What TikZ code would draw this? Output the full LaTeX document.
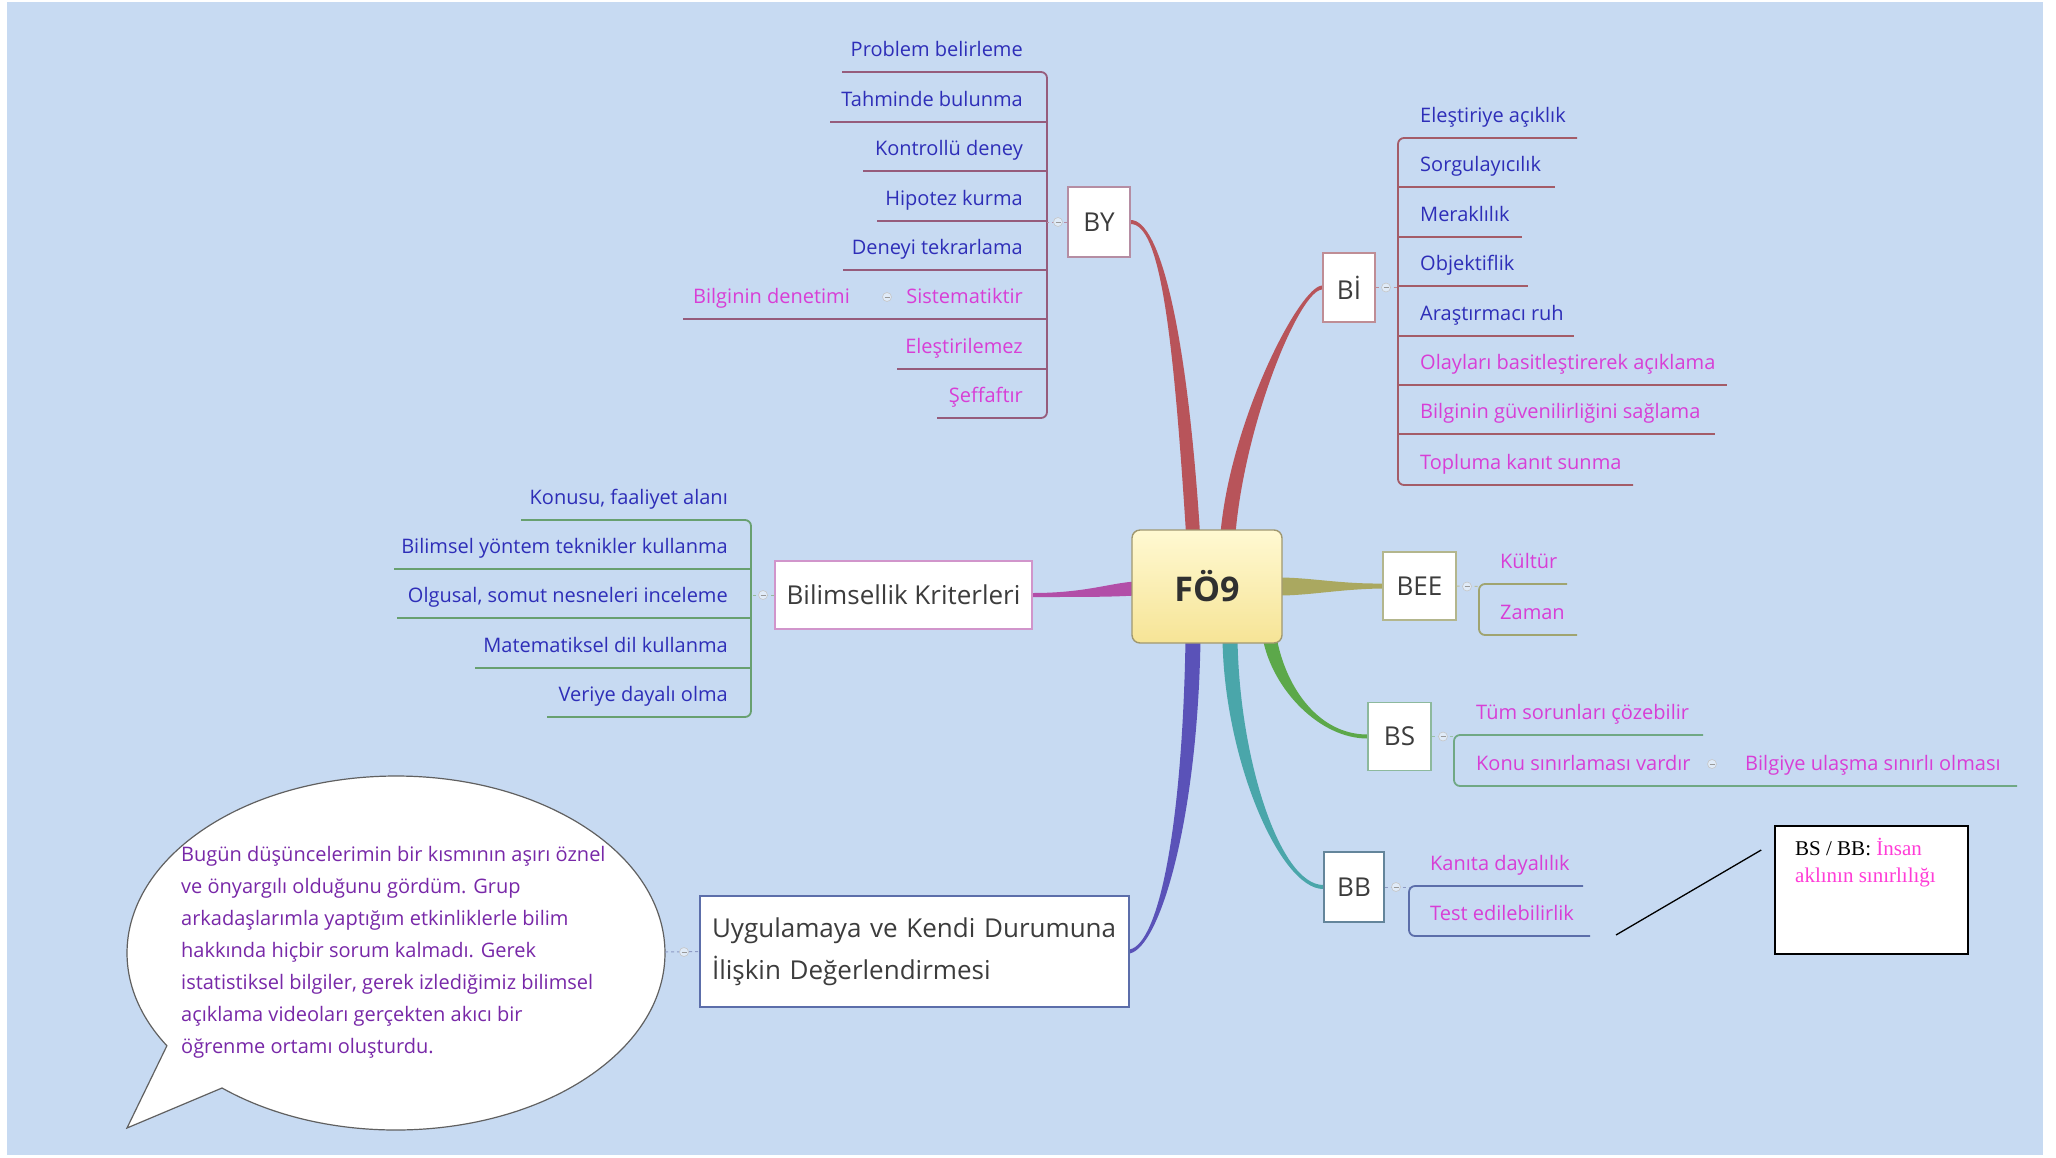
\documentclass[tikz,border=0pt]{standalone}
\usepackage{fontspec}
\setmainfont{Open Sans}
\newfontfamily\notefont{Liberation Serif}
\usetikzlibrary{calc,backgrounds}

\definecolor{bgblue}{RGB}{199,218,242}
\definecolor{leafblue}{RGB}{46,46,184}
\definecolor{leafpink}{RGB}{216,62,214}
\definecolor{notepink}{RGB}{255,60,215}
\definecolor{speechpurple}{RGB}{120,40,168}
\definecolor{labelgray}{RGB}{60,60,60}
\definecolor{brRed}{RGB}{184,84,90}
\definecolor{brMagenta}{RGB}{178,78,168}
\definecolor{brOlive}{RGB}{170,168,96}
\definecolor{brGreen}{RGB}{92,168,74}
\definecolor{brTeal}{RGB}{74,166,170}
\definecolor{brIndigo}{RGB}{90,82,184}
\definecolor{lnBY}{RGB}{150,92,124}
\definecolor{lnBI}{RGB}{164,92,104}
\definecolor{lnBK}{RGB}{104,160,112}
\definecolor{lnBEE}{RGB}{160,164,112}
\definecolor{lnBS}{RGB}{112,168,132}
\definecolor{lnBB}{RGB}{92,110,170}
\definecolor{fotop}{RGB}{255,249,210}
\definecolor{fobot}{RGB}{246,228,150}
\definecolor{fobord}{RGB}{160,152,112}

% tapered branch: colour, start, control 1, control 2, end, half-width at start, half-width at end
\newcommand\branchtaper[7]{%
  \fill[#1] ($#2+#6$) .. controls ($#3+#6$) and ($#4+#7$) .. ($#5+#7$)
    -- ($#5-#7$) .. controls ($#4-#7$) and ($#3-#6$) .. ($#2-#6$) -- cycle;}

\tikzset{
  topic/.style={draw, fill=white, line width=1.4pt, inner sep=0pt, text=labelgray,
    font=\fontsize{26}{30}\selectfont},
  leaf/.style={inner sep=0pt, font=\fontsize{20}{24}\selectfont},
  leafline/.style={line width=1.8pt, rounded corners=6pt},
  dotlink/.style={line width=1pt, dash pattern=on 3pt off 3pt},
  knob/.style={circle, draw=white!55!gray, fill=white!45!bgblue, line width=0.6pt,
    minimum size=9pt, inner sep=0pt,
    path picture={\draw[gray!80, line width=0.8pt]
      ([xshift=-2.5pt]path picture bounding box.center) --
      ([xshift=2.5pt]path picture bounding box.center);}},
}

\begin{document}
\begin{tikzpicture}[x=1pt,y=-1pt]
\useasboundingbox (0,0) rectangle (2056,1157);

% ---------- central topic and main topics ----------
\node[draw=fobord, line width=1.4pt, rounded corners=8pt, top color=fotop, bottom color=fobot,
      minimum width=150pt, minimum height=113pt, inner sep=0pt, text=labelgray!80!black,
      font=\bfseries\fontsize{34}{40}\selectfont] (fo9) at (1207,586.5) {FÖ9};

\node[topic, draw=lnBY!70, minimum width=62pt, minimum height=70pt] (by) at (1099,222) {BY};
\node[topic, draw=lnBI!70, minimum width=52pt, minimum height=69pt] (bi) at (1349,287.5) {Bİ};
\node[topic, draw=lnBEE!80, minimum width=73pt, minimum height=68pt] (bee) at (1419.5,586) {BEE};
\node[topic, draw=lnBS!80, minimum width=63pt, minimum height=68pt] (bs) at (1399.5,736.5) {BS};
\node[topic, draw=lnBB!60!lnBS, minimum width=60pt, minimum height=70pt] (bb) at (1354,887) {BB};
\node[topic, draw=brMagenta!60, minimum width=257pt, minimum height=68pt] (bk) at (903.5,595) {Bilimsellik Kriterleri};
\node[topic, draw=lnBB, minimum width=429pt, minimum height=111pt, text width=405pt, align=left,
      font=\fontsize{26}{42}\selectfont] (uyg) at (914.5,951.5)
      {Uygulamaya ve Kendi Durumuna\\İlişkin Değerlendirmesi};

% ---------- branch end points on the central topic ----------
\coordinate (byB) at ($(fo9.north)+(-14,4)$);
\coordinate (biB) at ($(fo9.north)+(21,4)$);
\coordinate (bkB) at ($(fo9.west)+(4,2)$);
\coordinate (beeB) at ($(fo9.east)+(-4,0)$);
\coordinate (bsB) at ($(fo9.south)+(63,-4)$);
\coordinate (bbB) at ($(fo9.south)+(23,-4)$);
\coordinate (uygB) at ($(fo9.south)+(-14,-4)$);

\begin{scope}[on background layer]
  \fill[white] (0,0) rectangle (2056,1157);
  \fill[bgblue] (7,2) rectangle (2043,1155);
  \branchtaper{brRed}{(by.east)}{(1160,222)}{(1180,330)}{(byB)}{(0,2)}{(-7,0)}
  \branchtaper{brRed}{(bi.west)}{(1300,287.5)}{(1238,420)}{(biB)}{(0,-2)}{(-7.5,0)}
  \branchtaper{brMagenta}{(bk.east)}{(1085,595)}{(1110,590)}{(bkB)}{(0,2)}{(0,7)}
  \branchtaper{brOlive}{(bee.west)}{(1340,586.5)}{(1310,586.5)}{(beeB)}{(0,-2.5)}{(0,-9)}
  \branchtaper{brGreen}{(bs.west)}{(1320,736.5)}{(1280,690)}{(bsB)}{(0,-2)}{(7,0)}
  \branchtaper{brTeal}{(bb.west)}{(1280,887)}{(1232,760)}{(bbB)}{(0,-2)}{(7.5,0)}
  \branchtaper{brIndigo}{(uyg.east)}{(1160,945)}{(1190,820)}{(uygB)}{(0,2)}{(7.5,0)}
\end{scope}

% ---------- BY ----------
\draw[leafline, lnBY] (842,72) -- (1047,72) -- (1047,418) -- (937,418);
\foreach \ly/\lx in {122/830,171/863,221/877,270/843,319/683,369/897}
  \draw[leafline, lnBY] (\lx,\ly) -- (1047,\ly);
\foreach \t/\ly/\c [count=\i] in {Problem belirleme/72/leafblue, Tahminde bulunma/122/leafblue,
    Kontrollü deney/171/leafblue, Hipotez kurma/221/leafblue, Deneyi tekrarlama/270/leafblue,
    Sistematiktir/319/leafpink, Eleştirilemez/369/leafpink, Şeffaftır/418/leafpink}
  \node[leaf, text=\c, anchor=base east] (by\i) at (1023,\ly-16) {\t};
\node[leaf, text=leafpink, anchor=base east] (bydn) at (850,303) {Bilginin denetimi};
\node[knob] (kbydn) at (887,297) {};
\draw[dotlink, lnBY!70] (by.west) -- (1047,222);
\node[knob] (kby) at (1058,222) {};

% ---------- Bİ ----------
\draw[leafline, lnBI] (1577,138) -- (1398,138) -- (1398,485) -- (1633,485);
\foreach \ly/\lx in {187/1555,237/1522,286/1528,336/1574,385/1727,434/1715}
  \draw[leafline, lnBI] (1398,\ly) -- (\lx,\ly);
\foreach \t/\ly/\c [count=\i] in {Eleştiriye açıklık/138/leafblue, Sorgulayıcılık/187/leafblue,
    Meraklılık/237/leafblue, Objektiflik/286/leafblue, Araştırmacı ruh/336/leafblue,
    Olayları basitleştirerek açıklama/385/leafpink, Bilginin güvenilirliğini sağlama/434/leafpink,
    Topluma kanıt sunma/485/leafpink}
  \node[leaf, text=\c, anchor=base west] (bi\i) at (1420,\ly-16) {\t};
\draw[dotlink, lnBI!70] (bi.east) -- (1398,287.5);
\node[knob] (kbi) at (1386,287.5) {};

% ---------- Bilimsellik Kriterleri ----------
\draw[leafline, lnBK] (521,520) -- (751,520) -- (751,717) -- (547,717);
\foreach \ly/\lx in {569/394,618/397,668/475}
  \draw[leafline, lnBK] (\lx,\ly) -- (751,\ly);
\foreach \t/\ly [count=\i] in {{Konusu, faaliyet alanı}/520, Bilimsel yöntem teknikler kullanma/569,
    {Olgusal, somut nesneleri inceleme}/618, Matematiksel dil kullanma/668, Veriye dayalı olma/717}
  \node[leaf, text=leafblue, anchor=base east] (bk\i) at (728,\ly-16) {\t};
\draw[dotlink, lnBK!70] (bk.west) -- (751,595);
\node[knob] (kbk) at (763,595) {};

% ---------- BEE ----------
\draw[leafline, lnBEE] (1567,584) -- (1479,584) -- (1479,635) -- (1577,635);
\foreach \t/\ly [count=\i] in {Kültür/584, Zaman/635}
  \node[leaf, text=leafpink, anchor=base west] (bee\i) at (1500,\ly-16) {\t};
\draw[dotlink, lnBEE!70] (bee.east) -- (1479,586.5);
\node[knob] (kbee) at (1467,586.5) {};

% ---------- BS ----------
\draw[leafline, lnBS] (1703,735) -- (1454,735) -- (1454,786) -- (2017,786);
\foreach \t/\ly [count=\i] in {Tüm sorunları çözebilir/735, Konu sınırlaması vardır/786}
  \node[leaf, text=leafpink, anchor=base west] (bs\i) at (1476,\ly-16) {\t};
\node[leaf, text=leafpink, anchor=base west] (bsbu) at (1745,770) {Bilgiye ulaşma sınırlı olması};
\node[knob] (kbsbu) at (1712,764) {};
\draw[dotlink, lnBS!70] (bs.east) -- (1454,736.5);
\node[knob] (kbs) at (1443,736.5) {};

% ---------- BB ----------
\draw[leafline, lnBB] (1583,886) -- (1409,886) -- (1409,936) -- (1590,936);
\foreach \t/\ly [count=\i] in {Kanıta dayalılık/886, Test edilebilirlik/936}
  \node[leaf, text=leafpink, anchor=base west] (bb\i) at (1430,\ly-16) {\t};
\draw[dotlink, lnBB!70] (bb.east) -- (1409,887);
\node[knob] (kbb) at (1396,887) {};

% ---------- speech bubble ----------
\coordinate (bub) at (396,953);
\coordinate (bubTail) at (127,1128);
\coordinate (bubE) at (665,952);
\filldraw[fill=white, draw=gray!75!black, line width=1.2pt]
  ($(bub)+({269*cos(130.3)},{177*sin(130.3)})$)
  arc[start angle=130.3, end angle=-211.6, x radius=269, y radius=177]
  -- (bubTail) -- cycle;
\foreach \t [count=\i] in {{Bugün düşüncelerimin bir kısmının aşırı öznel},
    {ve önyargılı olduğunu gördüm. Grup},
    {arkadaşlarımla yaptığım etkinliklerle bilim},
    {hakkında hiçbir sorum kalmadı. Gerek},
    {istatistiksel bilgiler, gerek izlediğimiz bilimsel},
    {açıklama videoları gerçekten akıcı bir},
    {öğrenme ortamı oluşturdu.}}
  \node[leaf, text=speechpurple, anchor=base west] (sp\i) at (181,{861+32*(\i-1)}) {\t};
\draw[dotlink, lnBB!70] (bubE) -- (uyg.west);
\node[knob] (kuyg) at (684,952) {};

% ---------- note ----------
\node[draw=black, fill=white, line width=1.6pt, minimum width=193pt, minimum height=128pt,
      inner sep=0pt] (note) at (1871.5,890) {};
\node[anchor=base west, inner sep=0pt, font=\notefont\fontsize{21}{27}\selectfont] (note1)
      at (1795,855) {BS / BB: \textcolor{notepink}{İnsan}};
\node[anchor=base west, inner sep=0pt, text=notepink, font=\notefont\fontsize{21}{27}\selectfont] (note2)
      at (1795,882) {aklının sınırlılığı};
\coordinate (calloutTip) at (1616,935);
\draw[line width=1.3pt] ($(note.west)+(-13,-40)$) -- (calloutTip);
\end{tikzpicture}
\end{document}
